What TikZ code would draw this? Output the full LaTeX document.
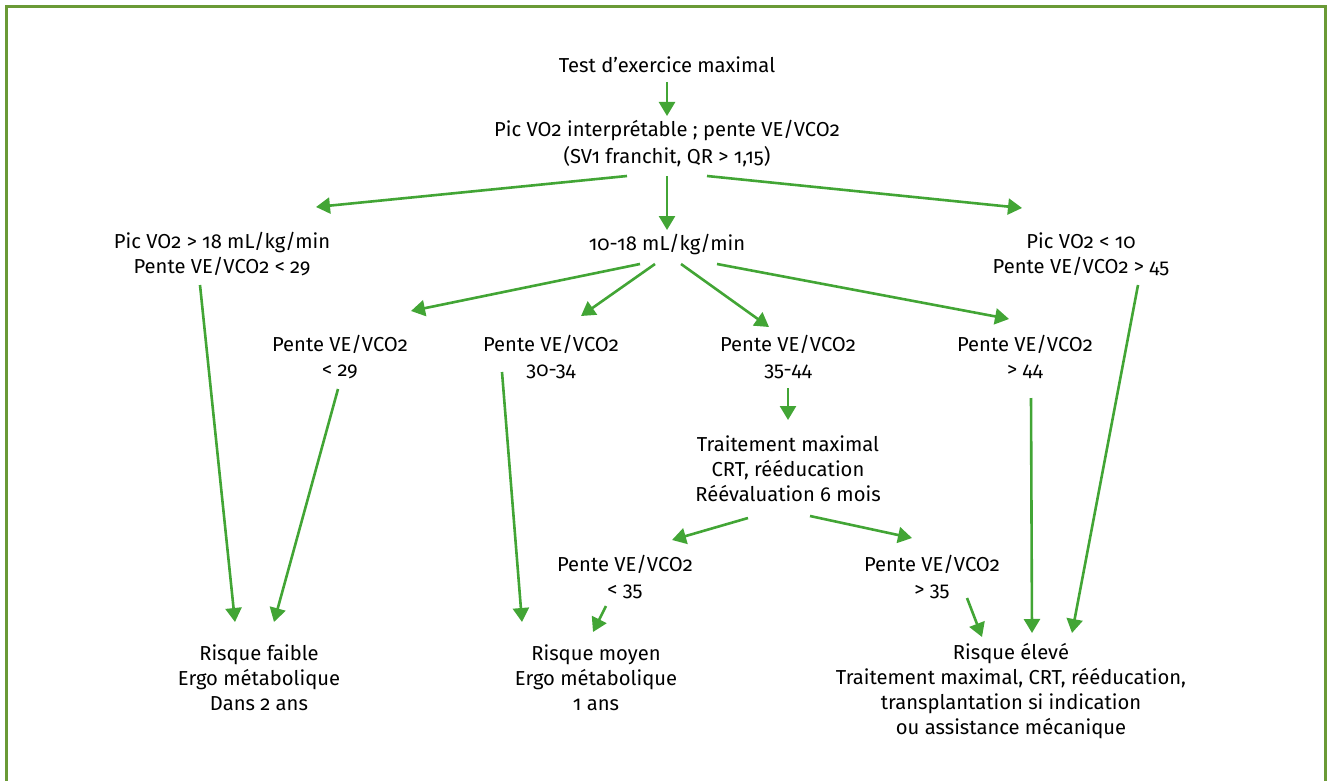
\documentclass[tikz,border=0pt]{standalone}
\usepackage{fontspec}
\setmainfont{Fira Sans}[Numbers=OldStyle]
\usetikzlibrary{arrows.meta}
\definecolor{cadre}{HTML}{6A9A36}
\definecolor{vertfleche}{HTML}{42A535}

\begin{document}
\begin{tikzpicture}[x=1pt,y=-1pt,every node/.style={font=\fontsize{20.2}{25}\selectfont,align=center,inner sep=0pt},fleche/.style={vertfleche,line width=2.6pt,-{Triangle[length=14pt,width=16pt]}}]
\useasboundingbox (0,0) rectangle (1327,781);
\draw[cadre,line width=3pt] (6.5,795) -- (6.5,7) -- (1325.5,7) -- (1325.5,795);
\node (test) at (667,65) {Test d’exercice maximal};
\node (pic) at (667,144) {Pic VO2 interprétable ; pente VE/VCO2\\[2pt] (SV1 franchit, QR > 1,15)};
\node (gauche) at (222,254) {Pic VO2 > 18 mL/kg/min\\ Pente VE/VCO2 < 29};
\node (milieu) at (667,244) {10-18 mL/kg/min};
\node (droite) at (1081,254) {Pic VO2 < 10\\ Pente VE/VCO2 > 45};
\node (pa) at (340,357) {Pente VE/VCO2\\ < 29}; \node (pb) at (551,357) {Pente VE/VCO2\\ 30-34};
\node (pc) at (788,357) {Pente VE/VCO2\\ 35-44}; \node (pd) at (1025,357) {Pente VE/VCO2\\ > 44};
\node (trt) at (788,469) {Traitement maximal\\ CRT, rééducation\\ Réévaluation 6 mois};
\node (pe) at (625,577) {Pente VE/VCO2\\ < 35}; \node (pf) at (932,577) {Pente VE/VCO2\\ > 35};
\node (faible) at (259,678) {Risque faible\\ Ergo métabolique\\ Dans 2 ans};
\node (moyen) at (596,678) {Risque moyen\\ Ergo métabolique\\ 1 ans};
\node (eleve) at (1011,691) {Risque élevé\\ Traitement maximal, CRT, rééducation,\\ transplantation si indication\\ ou assistance mécanique};
\draw[fleche] ([shift={(0,17)}]test.center) -- ([shift={(0,-28)}]pic.center);
\draw[fleche] ([shift={(-40,32)}]pic.center) -- ([shift={(94,-47)}]gauche.center);
\draw[fleche] ([shift={(0,32)}]pic.center) -- ([shift={(0,-14)}]milieu.center);
\draw[fleche] ([shift={(40,32)}]pic.center) -- ([shift={(-59,-46)}]droite.center);
\draw[fleche] ([shift={(-27,20)}]milieu.center) -- ([shift={(71,-46)}]pa.center);
\draw[fleche] ([shift={(-12,20)}]milieu.center) -- ([shift={(30,-41)}]pb.center);
\draw[fleche] ([shift={(14,20)}]milieu.center) -- ([shift={(-19,-30)}]pc.center);
\draw[fleche] ([shift={(50,20)}]milieu.center) -- ([shift={(-16,-38)}]pd.center);
\draw[fleche] ([shift={(-22,31)}]gauche.center) -- ([shift={(-24,-56)}]faible.center);
\draw[fleche] ([shift={(-2,32)}]pa.center) -- ([shift={(15,-56)}]faible.center);
\draw[fleche] ([shift={(-49,15)}]pb.center) -- ([shift={(-74,-56)}]moyen.center);
\draw[fleche] ([shift={(0,31)}]pc.center) -- ([shift={(0,-49)}]trt.center);
\draw[fleche] ([shift={(-40,49)}]trt.center) -- ([shift={(47,-37)}]pe.center);
\draw[fleche] ([shift={(22,47)}]trt.center) -- ([shift={(-20,-39)}]pf.center);
\draw[fleche] ([shift={(6,41)}]pd.center) -- ([shift={(21,-58)}]eleve.center);
\draw[fleche] ([shift={(57,31)}]droite.center) -- ([shift={(61,-58)}]eleve.center);
\draw[fleche] ([shift={(-19,29)}]pe.center) -- ([shift={(-3,-46)}]moyen.center);
\draw[fleche] ([shift={(35,21)}]pf.center) -- ([shift={(-29,-54)}]eleve.center);
\end{tikzpicture}
\end{document}
